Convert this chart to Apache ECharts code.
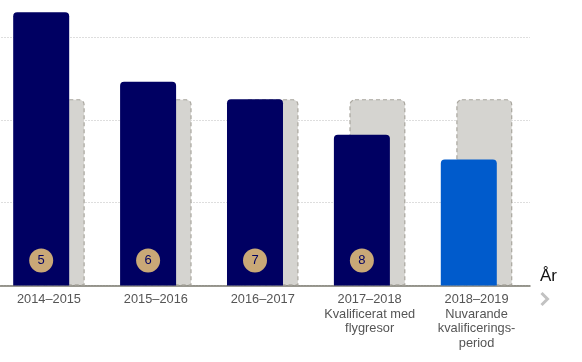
<!DOCTYPE html>
<html><head><meta charset="utf-8">
<script src="https://cdn.jsdelivr.net/npm/echarts@6/dist/echarts.min.js"></script>
<style>html,body{margin:0;padding:0;background:#fff}#c{width:582px;height:362px}</style>
</head><body><div id="c"></div>
<script>
const categories = ['2014–2015', '2015–2016', '2016–2017', '2017–2018\nKvalificerat med\nflygresor', '2018–2019\nNuvarande\nkvalificerings-\nperiod'];
const actualValues = [3.30, 2.46, 2.25, 1.82, 1.52];
const thresholdValues = [2.25, 2.25, 2.25, 2.25, 2.25];
const badgeLabels = ['5', '6', '7', '8', ''];
const yTicks = [0, 1, 2, 3];

const FONT = '"Liberation Sans", Arial, sans-serif';
const chart = echarts.init(document.getElementById('c'), null, {renderer: 'canvas'});
chart.setOption({
  animation: false,
  grid: {left: -4.5, right: 52, top: 37, bottom: 76.5, outerBoundsMode: 'none', containLabel: false},
  xAxis: {
    type: 'category',
    data: categories,
    name: 'År',
    nameLocation: 'end',
    nameGap: 10,
    nameTextStyle: {color: '#111', fontSize: 17, fontFamily: FONT, verticalAlign: 'bottom', padding: [0, 0, 0, 0], lineHeight: 19},
    axisLine: {lineStyle: {color: '#7a786e', width: 1.5}},
    axisTick: {show: false},
    axisLabel: {color: '#555', fontSize: 12.8, fontFamily: FONT, lineHeight: 14.5, margin: 7, interval: 0}
  },
  yAxis: {
    type: 'value', min: yTicks[0], max: yTicks[yTicks.length - 1], interval: 1,
    axisLabel: {show: false}, axisLine: {show: false}, axisTick: {show: false},
    splitLine: {lineStyle: {color: '#bdbdbd', type: [1, 2], width: 1}}
  },
  series: [
    {
      type: 'bar', name: 'actual', data: actualValues.map((v, i) => ({
        value: v,
        itemStyle: {color: i === 4 ? '#005bcc' : '#000062'}
      })),
      barWidth: 56, barGap: '-72.3%', z: 3, clip: false,
      itemStyle: {borderRadius: [4, 4, 0, 0]},
      label: {
        show: true, position: 'insideBottom', distance: 13,
        formatter: p => badgeLabels[p.dataIndex] ? '{b|' + badgeLabels[p.dataIndex] + '}' : '',
        rich: {b: {backgroundColor: '#c9a877', borderRadius: 12, width: 24, height: 24, lineHeight: 24, align: 'center', color: '#000062', fontSize: 13, fontFamily: FONT}}
      }
    },
    {
      type: 'bar', name: 'threshold', data: thresholdValues,
      barWidth: 56, z: 2, clip: false,
      itemStyle: {color: '#d5d4d0', borderColor: '#a9a69e', borderWidth: 1.2, borderType: [4, 3], borderRadius: [5, 5, 0, 0]},
      silent: true
    }
  ],
  graphic: [{
    type: 'polyline', shape: {points: [[541.5, 293], [547.5, 299], [541.5, 305]]},
    style: {stroke: '#c2c2c2', lineWidth: 3, fill: null}
  }]
});
</script></body></html>
